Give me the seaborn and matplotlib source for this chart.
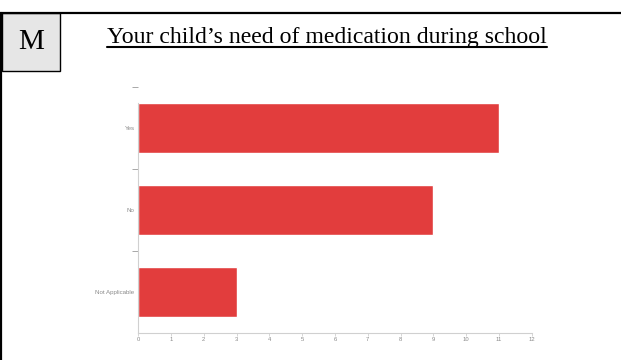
import matplotlib
matplotlib.use("Agg")
import matplotlib.pyplot as plt
from matplotlib.patches import Rectangle
from matplotlib.lines import Line2D
import seaborn as sns
import pandas as pd

# Survey answers and counts
categories = ["Yes", "No", "Not Applicable"]
counts = [11, 9, 3]
x_ticks = list(range(0, 13))

section_letter = "M"
title = "Your child\u2019s need of medication during school"

bar_color = "#e23d3d"
axis_grey = "#d0d0d0"
label_grey = "#8a8a8a"

sns.set_theme(style="white")
plt.rcParams["font.family"] = ["Liberation Sans", "DejaVu Sans"]

W, H = 621, 360
fig = plt.figure(figsize=(W / 100, H / 100), dpi=100)
fig.patch.set_facecolor("white")


def fx(px):
    return px / W


def fy(py):
    return 1 - py / H


# Page furniture: rule across the top, left border, lettered section box
fig.add_artist(Line2D([0, 1], [fy(13), fy(13)], color="black", lw=1.6,
                      transform=fig.transFigure))
fig.add_artist(Line2D([fx(1), fx(1)], [fy(13), 0], color="black", lw=1.6,
                      transform=fig.transFigure))
fig.add_artist(Rectangle((fx(2), fy(71)), fx(58), 58 / H,
                         facecolor="#e6e6e6", edgecolor="black", lw=1.0,
                         transform=fig.transFigure))
fig.text(fx(31), fy(42), section_letter, ha="center", va="center",
         family="Liberation Serif", fontsize=21, color="black")

t = fig.text(fx(107), fy(43), title, ha="left", va="baseline",
             family="Liberation Serif", fontsize=17.1, color="black")

# Chart
df = pd.DataFrame({"answer": categories, "count": counts})
ax = fig.add_axes([fx(138), fy(333), (532 - 138) / W, (333 - 87) / H])
sns.barplot(data=df, x="count", y="answer", orient="h", color=bar_color,
            width=0.6, saturation=1, ax=ax)
ax.set_xlim(0, 12)
ax.set_ylim(2.5, -0.5)
ax.set_xlabel("")
ax.set_ylabel("")
ax.set_facecolor("white")

for side in ("top", "right"):
    ax.spines[side].set_visible(False)
for side in ("left", "bottom"):
    ax.spines[side].set_color(axis_grey)
    ax.spines[side].set_linewidth(0.8)
ax.spines["left"].set_bounds(2.5, -0.3)

ax.set_xticks(x_ticks)
ax.set_xticklabels([str(v) for v in x_ticks])
ax.tick_params(axis="x", which="major", length=2.5, width=0.6,
               color=axis_grey, labelsize=4.2, labelcolor=label_grey, pad=0.5,
               bottom=True)

ax.set_yticks(range(len(categories)))
ax.set_yticklabels(categories)
ax.set_yticks([-0.5, 0.5, 1.5], minor=True)
ax.tick_params(axis="y", which="major", length=0, labelsize=4.4,
               labelcolor=label_grey, pad=2.5, left=True)
ax.tick_params(axis="y", which="minor", length=4, width=0.6,
               color="#9a9a9a", left=True)

# Underline the heading to the width of its text
fig.canvas.draw()
bb = t.get_window_extent(renderer=fig.canvas.get_renderer())
fig.add_artist(Line2D([bb.x0 / W, bb.x1 / W], [fy(47), fy(47)], color="black",
                      lw=1.5, transform=fig.transFigure))

fig.savefig("out.png", dpi=100, facecolor="white")
